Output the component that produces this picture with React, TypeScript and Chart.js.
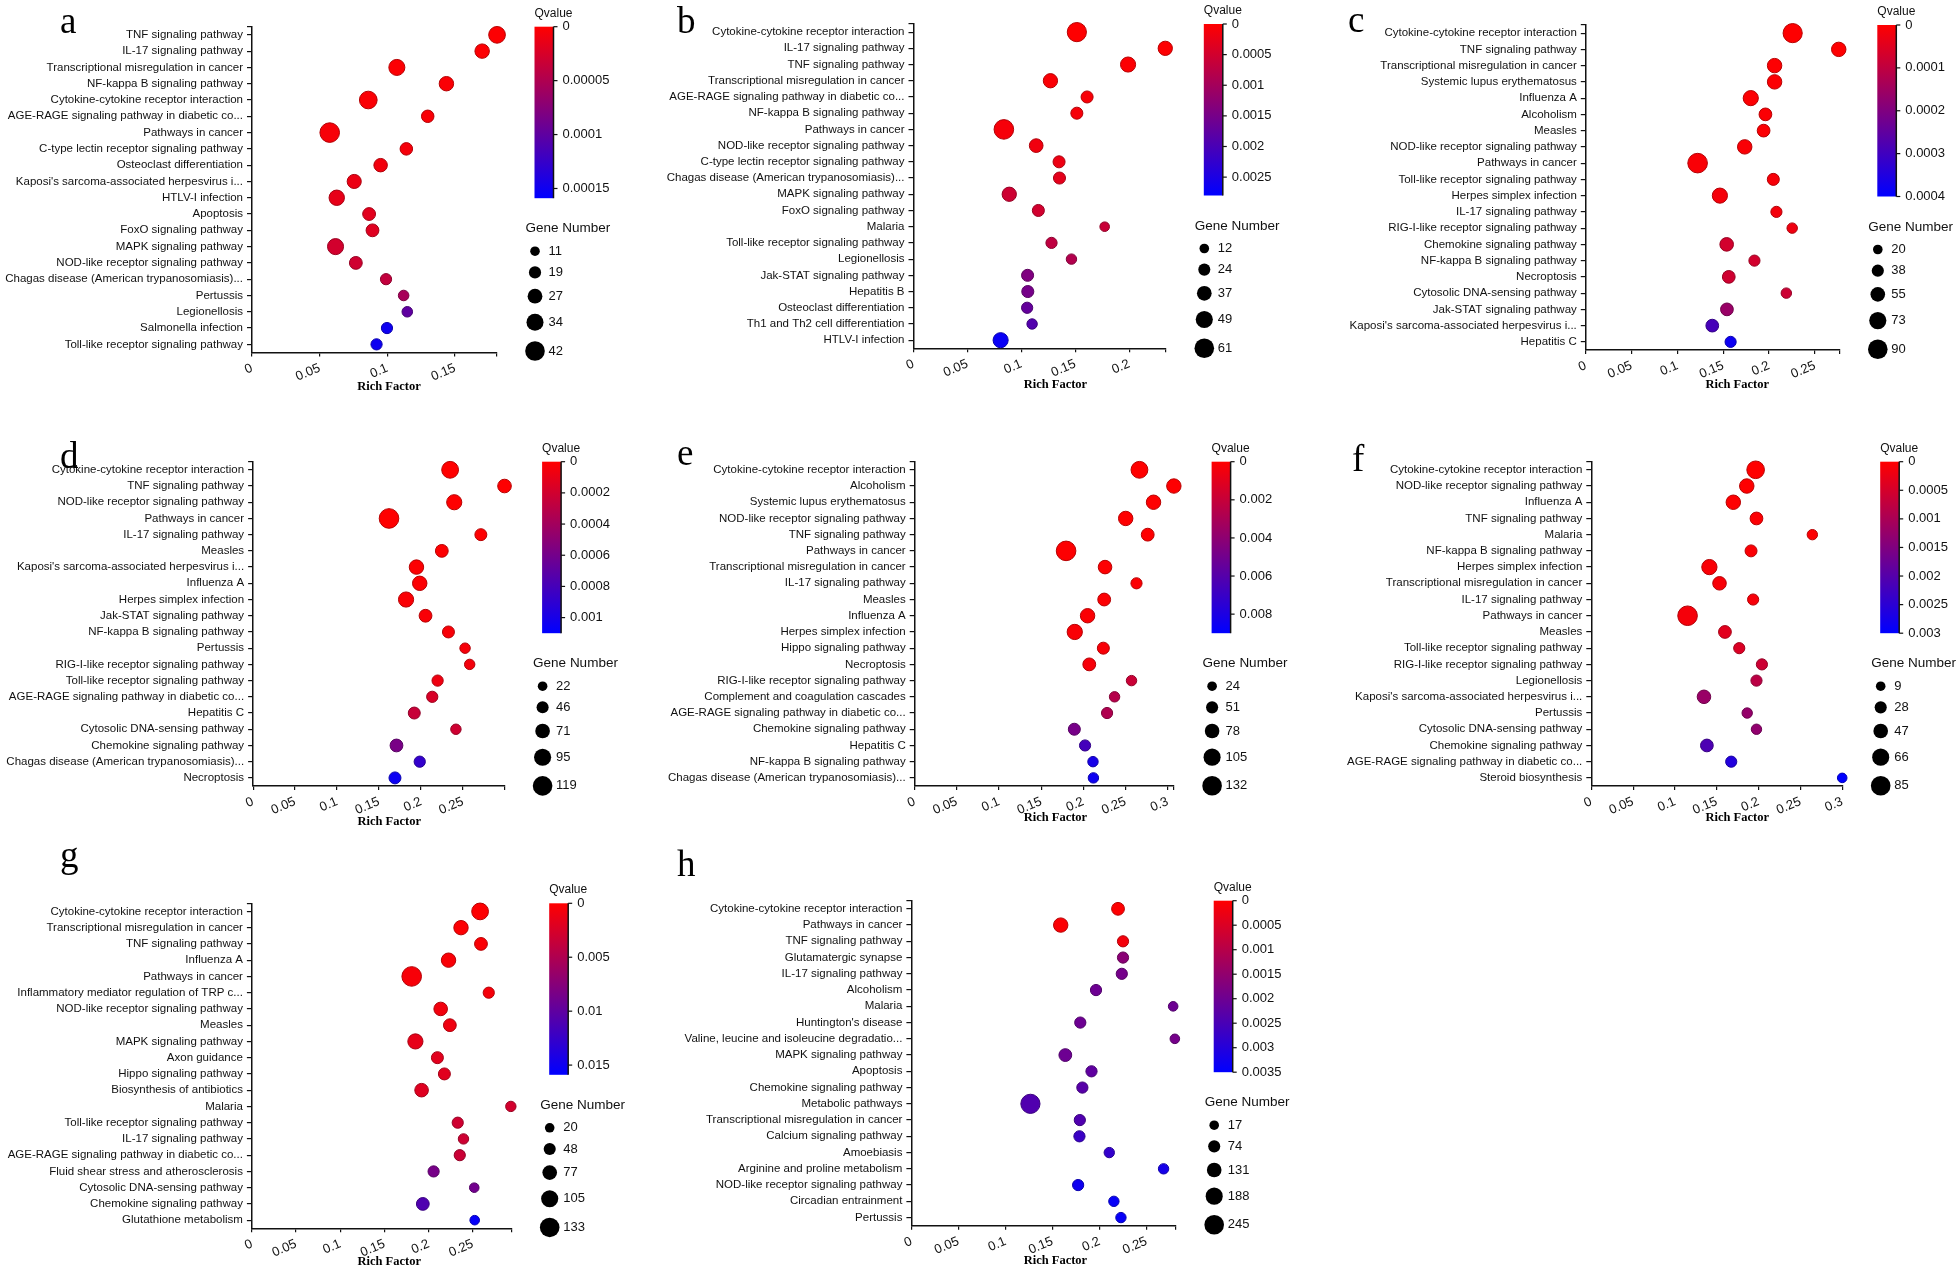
import React, { useEffect, useRef } from 'react';
import { Chart, registerables } from 'chart.js';

Chart.register(...registerables);

// ---------------- Panel a ----------------
const aPathways = [
  'TNF signaling pathway', 'IL-17 signaling pathway', 'Transcriptional misregulation in cancer',
  'NF-kappa B signaling pathway', 'Cytokine-cytokine receptor interaction',
  'AGE-RAGE signaling pathway in diabetic co...', 'Pathways in cancer',
  'C-type lectin receptor signaling pathway', 'Osteoclast differentiation',
  "Kaposi's sarcoma-associated herpesvirus i...", 'HTLV-I infection', 'Apoptosis',
  'FoxO signaling pathway', 'MAPK signaling pathway', 'NOD-like receptor signaling pathway',
  'Chagas disease (American trypanosomiasis)...', 'Pertussis', 'Legionellosis',
  'Salmonella infection', 'Toll-like receptor signaling pathway',
];
const aRichFactor = [0.181, 0.17, 0.107, 0.1436, 0.0859, 0.1298, 0.0574, 0.114, 0.095, 0.0755, 0.0626, 0.0865, 0.089, 0.0617, 0.0767, 0.099, 0.112, 0.1147, 0.0997, 0.092];
const aGeneNumber = [33, 26, 31, 26, 36, 20, 42, 20, 23, 25, 29, 21, 21, 31, 21, 16, 14, 14, 16, 16];
const aQvalue = [0.000001, 0.000002, 0.000002, 0.000003, 0.000003, 0.000004, 0.000005, 0.000006, 0.000008, 0.000012, 0.000015, 0.000018, 0.00002, 0.000028, 0.00003, 0.000038, 0.000055, 0.0001, 0.00015, 0.00015];
const aRichTicks = [0, 0.05, 0.1, 0.15];
const aRichMax = 0.1806;
const aQTicks = [0, 0.00005, 0.0001, 0.00015];
const aQTickLabels = ['0', '0.00005', '0.0001', '0.00015'];
const aQMax = 0.000159;
const aGeneLegend = [11, 19, 27, 34, 42];

// ---------------- Panel b ----------------
const bPathways = [
  'Cytokine-cytokine receptor interaction', 'IL-17 signaling pathway', 'TNF signaling pathway',
  'Transcriptional misregulation in cancer', 'AGE-RAGE signaling pathway in diabetic co...',
  'NF-kappa B signaling pathway', 'Pathways in cancer', 'NOD-like receptor signaling pathway',
  'C-type lectin receptor signaling pathway', 'Chagas disease (American trypanosomiasis)...',
  'MAPK signaling pathway', 'FoxO signaling pathway', 'Malaria', 'Toll-like receptor signaling pathway',
  'Legionellosis', 'Jak-STAT signaling pathway', 'Hepatitis B', 'Osteoclast differentiation',
  'Th1 and Th2 cell differentiation', 'HTLV-I infection',
];
const bRichFactor = [0.1515, 0.2335, 0.199, 0.127, 0.161, 0.1515, 0.0838, 0.1138, 0.135, 0.1354, 0.0888, 0.1158, 0.1773, 0.128, 0.1465, 0.1058, 0.106, 0.1054, 0.11, 0.0808];
const bGeneNumber = [59, 35, 39, 35, 24, 24, 61, 32, 24, 24, 35, 24, 12, 20, 16, 24, 24, 20, 16, 39];
const bQvalue = [0.00001, 0.00002, 0.00003, 0.00005, 0.00008, 0.0001, 0.0001, 0.00015, 0.0002, 0.0003, 0.00055, 0.0005, 0.0006, 0.0007, 0.00085, 0.0014, 0.0015, 0.0017, 0.0019, 0.0027];
const bRichTicks = [0, 0.05, 0.1, 0.15, 0.2];
const bRichMax = 0.234;
const bQTicks = [0, 0.0005, 0.001, 0.0015, 0.002, 0.0025];
const bQTickLabels = ['0', '0.0005', '0.001', '0.0015', '0.002', '0.0025'];
const bQMax = 0.0028;
const bGeneLegend = [12, 24, 37, 49, 61];

// ---------------- Panel c ----------------
const cPathways = [
  'Cytokine-cytokine receptor interaction', 'TNF signaling pathway', 'Transcriptional misregulation in cancer',
  'Systemic lupus erythematosus', 'Influenza A', 'Alcoholism', 'Measles', 'NOD-like receptor signaling pathway',
  'Pathways in cancer', 'Toll-like receptor signaling pathway', 'Herpes simplex infection',
  'IL-17 signaling pathway', 'RIG-I-like receptor signaling pathway', 'Chemokine signaling pathway',
  'NF-kappa B signaling pathway', 'Necroptosis', 'Cytosolic DNA-sensing pathway', 'Jak-STAT signaling pathway',
  "Kaposi's sarcoma-associated herpesvirus i...", 'Hepatitis C',
];
const cRichFactor = [0.2257, 0.276, 0.206, 0.206, 0.18, 0.196, 0.194, 0.1734, 0.122, 0.2046, 0.1463, 0.208, 0.2252, 0.1537, 0.184, 0.156, 0.2188, 0.154, 0.138, 0.158];
const cGeneNumber = [87, 54, 54, 54, 59, 42, 42, 54, 90, 37, 59, 31, 26, 48, 31, 42, 26, 42, 42, 31];
const cQvalue = [0.000001, 0.000002, 0.000003, 0.000004, 0.000005, 0.000006, 0.000007, 0.000008, 0.00001, 0.000012, 0.000015, 0.000018, 0.000025, 0.00007, 0.00007, 0.000075, 0.00008, 0.00016, 0.00029, 0.00038];
const cRichTicks = [0, 0.05, 0.1, 0.15, 0.2, 0.25];
const cRichMax = 0.2766;
const cQTicks = [0, 0.0001, 0.0002, 0.0003, 0.0004];
const cQTickLabels = ['0', '0.0001', '0.0002', '0.0003', '0.0004'];
const cQMax = 0.0004;
const cGeneLegend = [20, 38, 55, 73, 90];

// ---------------- Panel d ----------------
const dPathways = [
  'Cytokine-cytokine receptor interaction', 'TNF signaling pathway', 'NOD-like receptor signaling pathway',
  'Pathways in cancer', 'IL-17 signaling pathway', 'Measles', "Kaposi's sarcoma-associated herpesvirus i...",
  'Influenza A', 'Herpes simplex infection', 'Jak-STAT signaling pathway', 'NF-kappa B signaling pathway',
  'Pertussis', 'RIG-I-like receptor signaling pathway', 'Toll-like receptor signaling pathway',
  'AGE-RAGE signaling pathway in diabetic co...', 'Hepatitis C', 'Cytosolic DNA-sensing pathway',
  'Chemokine signaling pathway', 'Chagas disease (American trypanosomiasis)...', 'Necroptosis',
];
const dRichFactor = [0.2347, 0.2995, 0.2396, 0.1619, 0.2713, 0.2248, 0.1946, 0.1985, 0.1822, 0.2054, 0.2327, 0.2525, 0.258, 0.2198, 0.2134, 0.192, 0.2416, 0.1708, 0.1985, 0.169];
const dGeneNumber = [92, 61, 76, 119, 45, 53, 69, 69, 76, 53, 45, 30, 30, 38, 38, 45, 30, 53, 38, 45];
const dQvalue = [0.000002, 0.000003, 0.000004, 0.000005, 0.000008, 0.00001, 0.000012, 0.000015, 0.00002, 0.000025, 0.00003, 0.00004, 0.00005, 0.00007, 0.00017, 0.00024, 0.00021, 0.00058, 0.00088, 0.00105];
const dRichTicks = [0, 0.05, 0.1, 0.15, 0.2, 0.25];
const dRichMax = 0.299;
const dQTicks = [0, 0.0002, 0.0004, 0.0006, 0.0008, 0.001];
const dQTickLabels = ['0', '0.0002', '0.0004', '0.0006', '0.0008', '0.001'];
const dQMax = 0.0011;
const dGeneLegend = [22, 46, 71, 95, 119];

// ---------------- Panel e ----------------
const ePathways = [
  'Cytokine-cytokine receptor interaction', 'Alcoholism', 'Systemic lupus erythematosus',
  'NOD-like receptor signaling pathway', 'TNF signaling pathway', 'Pathways in cancer',
  'Transcriptional misregulation in cancer', 'IL-17 signaling pathway', 'Measles', 'Influenza A',
  'Herpes simplex infection', 'Hippo signaling pathway', 'Necroptosis', 'RIG-I-like receptor signaling pathway',
  'Complement and coagulation cascades', 'AGE-RAGE signaling pathway in diabetic co...',
  'Chemokine signaling pathway', 'Hepatitis C', 'NF-kappa B signaling pathway',
  'Chagas disease (American trypanosomiasis)...',
];
const eRichFactor = [0.2665, 0.3073, 0.2832, 0.2502, 0.2763, 0.1795, 0.2257, 0.263, 0.2247, 0.205, 0.1898, 0.2237, 0.207, 0.2571, 0.237, 0.2281, 0.1893, 0.202, 0.2114, 0.2119];
const eGeneNumber = [102, 76, 76, 76, 59, 132, 67, 41, 59, 76, 85, 50, 59, 33, 33, 41, 50, 41, 33, 33];
const eQvalue = [0.00001, 0.00002, 0.00003, 0.00004, 0.00005, 0.00006, 0.00008, 0.0001, 0.00012, 0.00015, 0.0002, 0.00025, 0.0003, 0.0019, 0.0026, 0.0028, 0.0048, 0.0066, 0.0082, 0.0085];
const eRichTicks = [0, 0.05, 0.1, 0.15, 0.2, 0.25, 0.3];
const eRichMax = 0.307;
const eQTicks = [0, 0.002, 0.004, 0.006, 0.008];
const eQTickLabels = ['0', '0.002', '0.004', '0.006', '0.008'];
const eQMax = 0.009;
const eGeneLegend = [24, 51, 78, 105, 132];

// ---------------- Panel f ----------------
const fPathways = [
  'Cytokine-cytokine receptor interaction', 'NOD-like receptor signaling pathway', 'Influenza A',
  'TNF signaling pathway', 'Malaria', 'NF-kappa B signaling pathway', 'Herpes simplex infection',
  'Transcriptional misregulation in cancer', 'IL-17 signaling pathway', 'Pathways in cancer', 'Measles',
  'Toll-like receptor signaling pathway', 'RIG-I-like receptor signaling pathway', 'Legionellosis',
  "Kaposi's sarcoma-associated herpesvirus i...", 'Pertussis', 'Cytosolic DNA-sensing pathway',
  'Chemokine signaling pathway', 'AGE-RAGE signaling pathway in diabetic co...', 'Steroid biosynthesis',
];
const fRichFactor = [0.1965, 0.1859, 0.1698, 0.1975, 0.2643, 0.191, 0.1412, 0.1533, 0.1935, 0.1151, 0.1598, 0.1769, 0.204, 0.1975, 0.1347, 0.1864, 0.1975, 0.1382, 0.1673, 0.3];
const fGeneNumber = [70, 46, 46, 33, 15, 27, 52, 39, 21, 85, 33, 21, 21, 21, 39, 15, 15, 33, 21, 9];
const fQvalue = [0.000005, 0.00001, 0.00002, 0.00003, 0.00004, 0.00005, 0.00007, 0.00008, 0.0001, 0.00012, 0.00034, 0.00042, 0.0006, 0.0008, 0.0012, 0.00125, 0.0013, 0.0021, 0.0026, 0.003];
const fRichTicks = [0, 0.05, 0.1, 0.15, 0.2, 0.25, 0.3];
const fRichMax = 0.3;
const fQTicks = [0, 0.0005, 0.001, 0.0015, 0.002, 0.0025, 0.003];
const fQTickLabels = ['0', '0.0005', '0.001', '0.0015', '0.002', '0.0025', '0.003'];
const fQMax = 0.003;
const fGeneLegend = [9, 28, 47, 66, 85];

// ---------------- Panel g ----------------
const gPathways = [
  'Cytokine-cytokine receptor interaction', 'Transcriptional misregulation in cancer', 'TNF signaling pathway',
  'Influenza A', 'Pathways in cancer', 'Inflammatory mediator regulation of TRP c...',
  'NOD-like receptor signaling pathway', 'Measles', 'MAPK signaling pathway', 'Axon guidance',
  'Hippo signaling pathway', 'Biosynthesis of antibiotics', 'Malaria', 'Toll-like receptor signaling pathway',
  'IL-17 signaling pathway', 'AGE-RAGE signaling pathway in diabetic co...',
  'Fluid shear stress and atherosclerosis', 'Cytosolic DNA-sensing pathway', 'Chemokine signaling pathway',
  'Glutathione metabolism',
];
const gRichFactor = [0.2582, 0.2366, 0.2592, 0.2225, 0.1808, 0.268, 0.2136, 0.224, 0.185, 0.2099, 0.2178, 0.192, 0.293, 0.2329, 0.2394, 0.2352, 0.2056, 0.2516, 0.1934, 0.2521];
const gGeneNumber = [101, 74, 56, 74, 133, 38, 65, 56, 83, 47, 47, 65, 29, 38, 29, 38, 38, 20, 56, 20];
const gQvalue = [0.0001, 0.0002, 0.0003, 0.0004, 0.0005, 0.0006, 0.0008, 0.001, 0.0015, 0.0018, 0.0019, 0.002, 0.0028, 0.003, 0.0031, 0.0033, 0.0085, 0.0088, 0.011, 0.0155];
const gRichTicks = [0, 0.05, 0.1, 0.15, 0.2, 0.25];
const gRichMax = 0.2934;
const gQTicks = [0, 0.005, 0.01, 0.015];
const gQTickLabels = ['0', '0.005', '0.01', '0.015'];
const gQMax = 0.0159;
const gGeneLegend = [20, 48, 77, 105, 133];

// ---------------- Panel h ----------------
const hPathways = [
  'Cytokine-cytokine receptor interaction', 'Pathways in cancer', 'TNF signaling pathway',
  'Glutamatergic synapse', 'IL-17 signaling pathway', 'Alcoholism', 'Malaria', "Huntington's disease",
  'Valine, leucine and isoleucine degradatio...', 'MAPK signaling pathway', 'Apoptosis',
  'Chemokine signaling pathway', 'Metabolic pathways', 'Transcriptional misregulation in cancer',
  'Calcium signaling pathway', 'Amoebiasis', 'Arginine and proline metabolism',
  'NOD-like receptor signaling pathway', 'Circadian entrainment', 'Pertussis',
];
const hRichFactor = [0.2196, 0.1587, 0.2249, 0.2249, 0.2236, 0.1962, 0.2782, 0.1795, 0.28, 0.1636, 0.1914, 0.1817, 0.1265, 0.179, 0.1786, 0.2103, 0.268, 0.1772, 0.2152, 0.2227];
const hGeneNumber = [90, 126, 54, 54, 54, 54, 17, 54, 17, 90, 54, 54, 236, 54, 54, 35, 35, 54, 35, 35];
const hQvalue = [0.00002, 0.00005, 0.00015, 0.0016, 0.0019, 0.002, 0.002, 0.002, 0.0019, 0.002, 0.0022, 0.0023, 0.0024, 0.0024, 0.0027, 0.0028, 0.0032, 0.0033, 0.0034, 0.0034];
const hRichTicks = [0, 0.05, 0.1, 0.15, 0.2, 0.25];
const hRichMax = 0.2809;
const hQTicks = [0, 0.0005, 0.001, 0.0015, 0.002, 0.0025, 0.003, 0.0035];
const hQTickLabels = ['0', '0.0005', '0.001', '0.0015', '0.002', '0.0025', '0.003', '0.0035'];
const hQMax = 0.0035;
const hGeneLegend = [17, 74, 131, 188, 245];

// ---------------- Assembly ----------------
type PanelData = {
  letter: string; pathways: string[]; rich: number[]; genes: number[]; q: number[];
  richTicks: number[]; richMax: number; qTicks: number[]; qTickLabels: string[]; qMax: number; geneLegend: number[];
};
type PanelLayout = {
  box: [number, number, number, number];
  axisX: number; plotTop: number; axisY: number; plotRight: number;
  letterX: number; letterY: number; titleX: number; titleY: number;
};

const DATA: PanelData[] = [
  { letter: 'a', pathways: aPathways, rich: aRichFactor, genes: aGeneNumber, q: aQvalue, richTicks: aRichTicks, richMax: aRichMax, qTicks: aQTicks, qTickLabels: aQTickLabels, qMax: aQMax, geneLegend: aGeneLegend },
  { letter: 'b', pathways: bPathways, rich: bRichFactor, genes: bGeneNumber, q: bQvalue, richTicks: bRichTicks, richMax: bRichMax, qTicks: bQTicks, qTickLabels: bQTickLabels, qMax: bQMax, geneLegend: bGeneLegend },
  { letter: 'c', pathways: cPathways, rich: cRichFactor, genes: cGeneNumber, q: cQvalue, richTicks: cRichTicks, richMax: cRichMax, qTicks: cQTicks, qTickLabels: cQTickLabels, qMax: cQMax, geneLegend: cGeneLegend },
  { letter: 'd', pathways: dPathways, rich: dRichFactor, genes: dGeneNumber, q: dQvalue, richTicks: dRichTicks, richMax: dRichMax, qTicks: dQTicks, qTickLabels: dQTickLabels, qMax: dQMax, geneLegend: dGeneLegend },
  { letter: 'e', pathways: ePathways, rich: eRichFactor, genes: eGeneNumber, q: eQvalue, richTicks: eRichTicks, richMax: eRichMax, qTicks: eQTicks, qTickLabels: eQTickLabels, qMax: eQMax, geneLegend: eGeneLegend },
  { letter: 'f', pathways: fPathways, rich: fRichFactor, genes: fGeneNumber, q: fQvalue, richTicks: fRichTicks, richMax: fRichMax, qTicks: fQTicks, qTickLabels: fQTickLabels, qMax: fQMax, geneLegend: fGeneLegend },
  { letter: 'g', pathways: gPathways, rich: gRichFactor, genes: gGeneNumber, q: gQvalue, richTicks: gRichTicks, richMax: gRichMax, qTicks: gQTicks, qTickLabels: gQTickLabels, qMax: gQMax, geneLegend: gGeneLegend },
  { letter: 'h', pathways: hPathways, rich: hRichFactor, genes: hGeneNumber, q: hQvalue, richTicks: hRichTicks, richMax: hRichMax, qTicks: hQTicks, qTickLabels: hQTickLabels, qMax: hQMax, geneLegend: hGeneLegend },
];

const LAYOUT: PanelLayout[] = [
  { box: [0, 0, 650, 395], axisX: 252, plotTop: 26.7, axisY: 352.5, plotRight: 496.5, letterX: 60, letterY: 32.5, titleX: 389, titleY: 389.5 },
  { box: [650, 0, 650, 395], axisX: 913.5, plotTop: 24, axisY: 348.3, plotRight: 1165.8, letterX: 677, letterY: 32.7, titleX: 1055.4, titleY: 388 },
  { box: [1300, 0, 659, 395], axisX: 1585.8, plotTop: 25, axisY: 350, plotRight: 1839.3, letterX: 1348, letterY: 31.7, titleX: 1737.2, titleY: 388 },
  { box: [0, 395, 650, 450], axisX: 253.1, plotTop: 461.7, axisY: 786, plotRight: 504.1, letterX: 60, letterY: 468, titleX: 389.2, titleY: 825 },
  { box: [650, 395, 650, 450], axisX: 914.7, plotTop: 461.7, axisY: 786, plotRight: 1173.6, letterX: 677, letterY: 465, titleX: 1055.4, titleY: 820.5 },
  { box: [1300, 395, 659, 450], axisX: 1591.3, plotTop: 461.7, axisY: 786, plotRight: 1842.2, letterX: 1352, letterY: 471, titleX: 1737.2, titleY: 820.5 },
  { box: [0, 845, 650, 423], axisX: 251.9, plotTop: 903.3, axisY: 1228.3, plotRight: 511.2, letterX: 60, letterY: 867, titleX: 389.2, titleY: 1264.5 },
  { box: [650, 845, 650, 423], axisX: 911.4, plotTop: 900.7, axisY: 1225.7, plotRight: 1175.7, letterX: 677, letterY: 876, titleX: 1055.4, titleY: 1263.5 },
];

const SANS = "'Liberation Sans', Arial, sans-serif";
const SERIF = "'Liberation Serif', 'Times New Roman', serif";
const R_MIN = 4.8;
const R_MAX = 9.8;
const INK = '#111';

const radiusFor = (n: number, legend: number[]) =>
  R_MIN + ((n - legend[0]) / (legend[legend.length - 1] - legend[0])) * (R_MAX - R_MIN);

const rgbFor = (q: number, qMax: number, k = 1) => {
  const t = Math.min(1, Math.max(0, q / qMax));
  return `rgb(${Math.round(255 * (1 - t) * k)},0,${Math.round(255 * t * k)})`;
};

function makeDecor(d: PanelData, L: PanelLayout) {
  return {
    id: 'decor-' + d.letter,
    afterDraw(chart: any) {
      const ctx: CanvasRenderingContext2D = chart.ctx;
      const ca = chart.chartArea;
      const ox = L.box[0];
      const oy = L.box[1];
      ctx.save();
      ctx.fillStyle = '#000';
      // panel letter
      ctx.font = `37px ${SERIF}`;
      ctx.textAlign = 'left';
      ctx.textBaseline = 'alphabetic';
      ctx.fillText(d.letter, L.letterX - ox, L.letterY - oy);
      // x axis title
      ctx.font = `bold 12.5px ${SERIF}`;
      ctx.textAlign = 'center';
      ctx.fillText('Rich Factor', L.titleX - ox, L.titleY - oy);

      // colour bar
      const barL = ca.right + 38;
      const barW = 19;
      const barT = ca.top;
      const barH = 171.5;
      const barR = barL + barW;
      const grad = ctx.createLinearGradient(0, barT, 0, barT + barH);
      grad.addColorStop(0, 'rgb(255,0,0)');
      grad.addColorStop(1, 'rgb(0,0,255)');
      ctx.fillStyle = grad;
      ctx.fillRect(barL, barT, barW, barH);
      ctx.strokeStyle = INK;
      ctx.lineWidth = 1.5;
      ctx.beginPath();
      ctx.moveTo(barR, barT);
      ctx.lineTo(barR, barT + barH);
      ctx.stroke();
      ctx.lineWidth = 1.2;
      ctx.fillStyle = INK;
      ctx.font = `13px ${SANS}`;
      ctx.textAlign = 'left';
      ctx.textBaseline = 'middle';
      d.qTicks.forEach((v, i) => {
        const y = barT + (v / d.qMax) * barH;
        ctx.beginPath();
        ctx.moveTo(barR, y);
        ctx.lineTo(barR + 4, y);
        ctx.stroke();
        ctx.fillText(d.qTickLabels[i], barR + 9, y);
      });
      ctx.textBaseline = 'alphabetic';
      ctx.font = `12px ${SANS}`;
      ctx.fillText('Qvalue', barL, barT - 10);

      // gene number legend
      const gTitleY = barT + 205.5;
      ctx.font = `13.5px ${SANS}`;
      ctx.fillText('Gene Number', barL - 9, gTitleY);
      ctx.font = `13px ${SANS}`;
      ctx.textBaseline = 'middle';
      let cy = gTitleY + 19;
      let prevR = 0;
      d.geneLegend.forEach((v, i) => {
        const r = radiusFor(v, d.geneLegend);
        if (i > 0) cy += prevR + r + 10.3;
        ctx.fillStyle = '#000';
        ctx.beginPath();
        ctx.arc(barL + 0.5, cy, r, 0, Math.PI * 2);
        ctx.fill();
        ctx.fillStyle = INK;
        ctx.fillText(String(v), barL + 14, cy);
        prevR = r;
      });
      ctx.restore();
    },
  };
}

function buildConfig(d: PanelData, L: PanelLayout): any {
  const n = d.pathways.length;
  const points = d.pathways.map((_, i) => ({ x: d.rich[i], y: i, r: radiusFor(d.genes[i], d.geneLegend) }));
  const fills = d.q.map((q) => rgbFor(q, d.qMax));
  const borders = d.q.map((q) => rgbFor(q, d.qMax, 0.72));
  return {
    type: 'bubble',
    data: {
      datasets: [
        { data: points, backgroundColor: fills, borderColor: borders, borderWidth: 1, clip: false },
      ],
    },
    options: {
      animation: false,
      responsive: false,
      events: [],
      layout: {
        padding: { left: 0, top: L.plotTop - L.box[1], right: L.box[0] + L.box[2] - L.plotRight, bottom: 0 },
      },
      plugins: { legend: { display: false }, tooltip: { enabled: false }, title: { display: false } },
      scales: {
        x: {
          type: 'linear',
          min: 0,
          max: d.richMax,
          afterBuildTicks: (s: any) => {
            const vals = d.richTicks.slice();
            if (!vals.includes(d.richMax)) vals.push(d.richMax);
            s.ticks = vals.map((v) => ({ value: v }));
          },
          afterFit: (s: any) => {
            s.height = L.box[1] + L.box[3] - L.axisY;
          },
          ticks: {
            autoSkip: false,
            minRotation: 23,
            maxRotation: 23,
            padding: 4,
            color: INK,
            font: { family: SANS, size: 13 },
            callback: (v: number) => (d.richTicks.includes(v) ? String(v) : ''),
          },
          grid: { display: true, drawOnChartArea: false, drawTicks: true, tickLength: 4, color: INK, lineWidth: 1.2 },
          border: { display: true, color: INK, width: 1.5 },
        },
        y: {
          type: 'linear',
          reverse: true,
          min: -0.5,
          max: n - 0.5,
          afterBuildTicks: (s: any) => {
            s.ticks = [{ value: -0.5 }, ...d.pathways.map((_, i) => ({ value: i }))];
          },
          afterFit: (s: any) => {
            s.width = L.axisX - L.box[0];
          },
          ticks: {
            autoSkip: false,
            padding: 4,
            color: INK,
            font: { family: SANS, size: 11.5 },
            callback: (v: number) => (Number.isInteger(v) && d.pathways[v] !== undefined ? d.pathways[v] : ''),
          },
          grid: { display: true, drawOnChartArea: false, drawTicks: true, tickLength: 5, color: INK, lineWidth: 1.2 },
          border: { display: true, color: INK, width: 1.5 },
        },
      },
    },
    plugins: [makeDecor(d, L)],
  };
}

function Panel({ d, L }: { d: PanelData; L: PanelLayout }) {
  const ref = useRef<HTMLCanvasElement>(null);
  useEffect(() => {
    if (!ref.current) return;
    const chart = new Chart(ref.current, buildConfig(d, L));
    return () => chart.destroy();
  }, [d, L]);
  const [l, t, w, h] = L.box;
  return (
    <canvas
      ref={ref}
      width={w}
      height={h}
      style={{ position: 'absolute', left: l, top: t, width: w, height: h, display: 'block' }}
    />
  );
}

export default function App() {
  return (
    <div style={{ position: 'absolute', left: 0, top: 0, width: 1959, height: 1268, background: '#fff', overflow: 'hidden' }}>
      {DATA.map((d, i) => (
        <Panel key={d.letter} d={d} L={LAYOUT[i]} />
      ))}
    </div>
  );
}
